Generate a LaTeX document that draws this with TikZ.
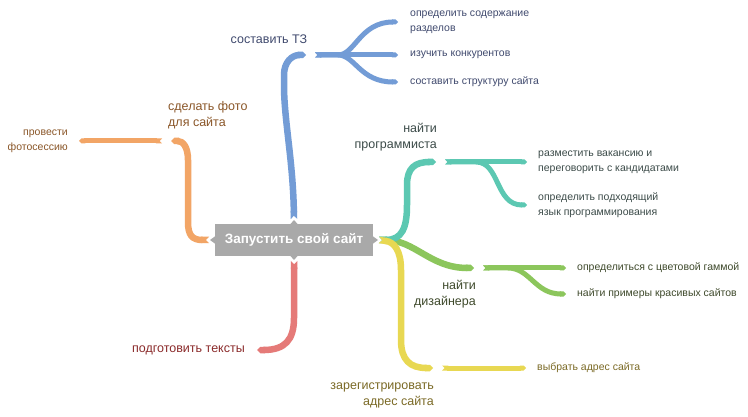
\documentclass[tikz,border=0pt]{standalone}
\usepackage{fontspec}
\setmainfont{Liberation Sans}
\usetikzlibrary{arrows.meta}
\definecolor{cblue}{HTML}{739CD6}
\definecolor{corange}{HTML}{F2A566}
\definecolor{cred}{HTML}{E57A78}
\definecolor{cteal}{HTML}{5CC8B2}
\definecolor{cgreen}{HTML}{8CC65C}
\definecolor{cyellow}{HTML}{E8D852}
\definecolor{cgray}{HTML}{A9A9A9}
\definecolor{tblue}{HTML}{404A6E}
\definecolor{torange}{HTML}{8A5628}
\definecolor{tred}{HTML}{8B2B2B}
\definecolor{tteal}{HTML}{3C4B49}
\definecolor{tgreen}{HTML}{3F4A2C}
\definecolor{tyellow}{HTML}{7B6A26}
\tikzset{
  mainbr/.style={line width=6.5pt, {Triangle Cap[reversed]}-{Triangle Cap}},
  subbr/.style={line width=5pt, {Triangle Cap[reversed]}-{Triangle Cap}},
  mainlbl/.style={font=\fontsize{12.5}{16}\selectfont, inner sep=0pt},
  sublbl/.style={font=\fontsize{10.5}{15}\selectfont, inner sep=0pt},
  rootbox/.style={fill=cgray, text=white, minimum width=158pt, minimum height=32pt, inner sep=0pt,
    font=\fontsize{13.5}{16}\selectfont\bfseries},
  nib/.style={fill=cgray}
}
\begin{document}
\begin{tikzpicture}[x=1pt,y=-1pt]
\useasboundingbox (0,0) rectangle (748,417);
\fill[white] (0,0) rectangle (748,417);

% coordinates
\coordinate (rT) at (294,219);
\coordinate (rB) at (294,261);
\coordinate (rL) at (209,240);
\coordinate (rR) at (379,240);

% ---- green
\coordinate (gJ) at (474,268);
\coordinate (gS) at (483,268);
\coordinate (gA) at (566,268);
\coordinate (gB) at (566,294);
\draw[mainbr, cgreen] (rR) .. controls (415,240) and (430,268) .. (gJ);
\draw[subbr, cgreen] (gS) -- (gA);
\draw[subbr, cgreen] (gS) -- (508,268) .. controls (530,268) and (535,294) .. (gB);

% ---- teal
\coordinate (tJ) at (436,162);
\coordinate (tS) at (445,162);
\coordinate (tA) at (527,162);
\coordinate (tB) at (527,205);
\draw[mainbr, cteal] (rR) .. controls (402,240) and (407,228) .. (407,205) -- (407,185) .. controls (407,168) and (415,162) .. (tJ);
\draw[subbr, cteal] (tS) -- (tA);
\draw[subbr, cteal] (tS) -- (476,162) .. controls (500,162) and (495,205) .. (tB);

% ---- yellow
\coordinate (yJ) at (433,368);
\coordinate (yS) at (442,368);
\coordinate (yA) at (526,368);
\draw[mainbr, cyellow] (rR) .. controls (394,242) and (401,250) .. (401,270) -- (401,340) .. controls (401,360) and (410,368) .. (yJ);
\draw[subbr, cyellow] (yS) -- (yA);

% ---- blue
\coordinate (bJ) at (306,55);
\coordinate (bS) at (315,55);
\coordinate (bA) at (398,22);
\coordinate (bB) at (398,55);
\coordinate (bC) at (398,82);
\draw[mainbr, cblue] (rT) .. controls (293,160) and (284,120) .. (284,85) -- (284,75) .. controls (284,62) and (292,55) .. (bJ);
\draw[subbr, cblue] (bS) -- (338,55) .. controls (355,55) and (360,22) .. (bA);
\draw[subbr, cblue] (bS) -- (bB);
\draw[subbr, cblue] (bS) -- (338,55) .. controls (355,55) and (360,82) .. (bC);

% ---- orange
\coordinate (oJ) at (171,141);
\coordinate (oS) at (162,141);
\coordinate (oA) at (79,141);
\draw[mainbr, corange] (rL) .. controls (192,240) and (188,235) .. (188,222) -- (188,160) .. controls (188,147) and (183,141) .. (oJ);
\draw[subbr, corange] (oS) -- (oA);

% ---- red
\coordinate (dJ) at (257,350);
\draw[mainbr, cred] (rB) -- (294,318) .. controls (294,340) and (285,350) .. (dJ);

% ---- root
\node[rootbox] (root) at (294,240) {Запустить свой сайт};
\fill[nib] (294,220) -- (298,224.5) -- (290,224.5) -- cycle;
\fill[nib] (294,260) -- (298,255.5) -- (290,255.5) -- cycle;
\fill[nib] (210,240) -- (215.5,236) -- (215.5,244) -- cycle;
\fill[nib] (378,240) -- (372.5,236) -- (372.5,244) -- cycle;

% ---- labels
\node[mainlbl, text=tblue, anchor=center] (lb) at (269,39) {составить ТЗ};
\node[sublbl, text=tblue, anchor=west, align=left] (lb1) at (410,22) {определить содержание\\разделов};
\node[sublbl, text=tblue, anchor=west] (lb2) at (410,55) {изучить конкурентов};
\node[sublbl, text=tblue, anchor=west] (lb3) at (410,82) {составить структуру сайта};

\node[mainlbl, text=torange, anchor=west, align=left] (lo) at (168,115) {сделать фото\\для сайта};
\node[sublbl, text=torange, anchor=east, align=right] (lo1) at (68,141) {провести\\фотосессию};

\node[mainlbl, text=tred, anchor=east] (lr) at (245,350) {подготовить тексты};

\node[mainlbl, text=tteal, anchor=east, align=right] (lt) at (437,137) {найти\\программиста};
\node[sublbl, text=tteal, anchor=west, align=left] (lt1) at (538,162) {разместить вакансию и\\переговорить с кандидатами};
\node[sublbl, text=tteal, anchor=west, align=left] (lt2) at (538,205) {определить подходящий\\язык программирования};

\node[mainlbl, text=tgreen, anchor=east, align=right] (lg) at (476,294) {найти\\дизайнера};
\node[sublbl, text=tgreen, anchor=west] (lg1) at (577,268) {определиться с цветовой гаммой};
\node[sublbl, text=tgreen, anchor=west] (lg2) at (577,294) {найти примеры красивых сайтов};

\node[mainlbl, text=tyellow, anchor=east, align=right] (ly) at (434,395) {зарегистрировать\\адрес сайта};
\node[sublbl, text=tyellow, anchor=west] (ly1) at (537,368) {выбрать адрес сайта};
\end{tikzpicture}
\end{document}
